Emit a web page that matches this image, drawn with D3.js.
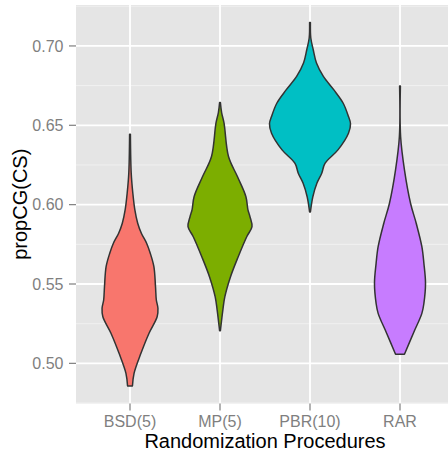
<!DOCTYPE html>
<html>
<head>
<meta charset="utf-8">
<script src="https://cdn.jsdelivr.net/npm/d3@7"></script>
<style>
  html, body { margin: 0; padding: 0; background: #fff; }
  svg { display: block; font-family: "Liberation Sans", Arial, sans-serif; }
</style>
</head>
<body>
<svg id="chart" width="448" height="450"></svg>
<script>
// ---- data ----
const categories = ["BSD(5)", "MP(5)", "PBR(10)", "RAR"];
const colors = ["#F8766D", "#7CAE00", "#00BFC4", "#C77CFF"];
const yTicks = [0.50, 0.55, 0.60, 0.65, 0.70];
const yMinor = [0.475, 0.525, 0.575, 0.625, 0.675, 0.725];

// density profiles: value (propCG) and relative density (violin half-width)
const bsdValues = [0.6444, 0.6198, 0.6072, 0.5967, 0.5883, 0.5820, 0.5757, 0.5694, 0.5609, 0.5483, 0.5399, 0.5347, 0.5294, 0.5190, 0.5063, 0.4937, 0.4857];
const bsdDensity = [0.01, 0.03, 0.07, 0.12, 0.19, 0.28, 0.41, 0.50, 0.59, 0.63, 0.65, 0.69, 0.67, 0.47, 0.27, 0.10, 0.06];

const mpValues = [0.6643, 0.6580, 0.6513, 0.6303, 0.6177, 0.6050, 0.5967, 0.5924, 0.5861, 0.5798, 0.5672, 0.5546, 0.5420, 0.5336, 0.5206];
const mpDensity = [0.01, 0.04, 0.10, 0.21, 0.43, 0.64, 0.69, 0.74, 0.79, 0.66, 0.45, 0.26, 0.12, 0.07, 0.01];

const pbrValues = [0.7148, 0.7050, 0.6976, 0.6892, 0.6808, 0.6723, 0.6639, 0.6555, 0.6510, 0.6450, 0.6345, 0.6260, 0.6198, 0.6135, 0.6050, 0.5954];
const pbrDensity = [0.01, 0.02, 0.08, 0.16, 0.33, 0.59, 0.82, 0.95, 1.00, 0.95, 0.69, 0.37, 0.29, 0.17, 0.07, 0.01];

const rarValues = [0.6748, 0.6429, 0.6219, 0.6009, 0.5883, 0.5735, 0.5630, 0.5504, 0.5378, 0.5315, 0.5190, 0.5057];
const rarDensity = [0.01, 0.015, 0.11, 0.26, 0.40, 0.54, 0.59, 0.63, 0.59, 0.54, 0.33, 0.11];

const groups = [
  { name: categories[0], values: bsdValues, density: bsdDensity, color: colors[0] },
  { name: categories[1], values: mpValues, density: mpDensity, color: colors[1] },
  { name: categories[2], values: pbrValues, density: pbrDensity, color: colors[2] },
  { name: categories[3], values: rarValues, density: rarDensity, color: colors[3] }
];

// ---- layout ----
const panel = { left: 76, right: 454, top: 5, bottom: 403.5 };
const svg = d3.select("#chart");

const x = d3.scalePoint().domain(categories).range([panel.left, panel.right]).padding(0.6);
const y = d3.scaleLinear().domain([0.4747, 0.7258]).range([panel.bottom, panel.top]);
const w = d3.scaleLinear().domain([0, 1]).range([0, x.step() * 0.45]);

// panel background
svg.append("rect")
  .attr("x", panel.left).attr("y", panel.top)
  .attr("width", panel.right - panel.left).attr("height", panel.bottom - panel.top)
  .attr("fill", "#E5E5E5");

const grid = svg.append("g");
// minor
grid.selectAll("line.minor").data(yMinor.filter(v => y(v) >= panel.top && y(v) <= panel.bottom)).join("line")
  .attr("x1", panel.left).attr("x2", panel.right)
  .attr("y1", d => y(d)).attr("y2", d => y(d))
  .attr("stroke", "#F2F2F2").attr("stroke-width", 0.9);
// major horizontal
grid.selectAll("line.majy").data(yTicks).join("line")
  .attr("x1", panel.left).attr("x2", panel.right)
  .attr("y1", d => y(d)).attr("y2", d => y(d))
  .attr("stroke", "#FFFFFF").attr("stroke-width", 1.8);
// major vertical
grid.selectAll("line.majx").data(categories).join("line")
  .attr("y1", panel.top).attr("y2", panel.bottom)
  .attr("x1", d => x(d)).attr("x2", d => x(d))
  .attr("stroke", "#FFFFFF").attr("stroke-width", 1.8);

// violins
groups.forEach(g => {
  const cx = x(g.name);
  const pts = g.values.map((v, i) => ({ v: v, d: g.density[i] }));
  const area = d3.area()
    .y(p => y(p.v))
    .x0(p => cx - w(p.d))
    .x1(p => cx + w(p.d))
    .curve(d3.curveCatmullRom.alpha(0.5));
  svg.append("path")
    .datum(pts)
    .attr("d", area)
    .attr("fill", g.color)
    .attr("stroke", "#333333")
    .attr("stroke-width", 1.5)
    .attr("stroke-linejoin", "round");
});

// y axis ticks & labels
const yAxis = svg.append("g");
yAxis.selectAll("line").data(yTicks).join("line")
  .attr("x1", panel.left - 7).attr("x2", panel.left)
  .attr("y1", d => y(d)).attr("y2", d => y(d))
  .attr("stroke", "#7F7F7F").attr("stroke-width", 1.2);
yAxis.selectAll("text").data(yTicks).join("text")
  .attr("x", 63.5).attr("y", d => y(d)).attr("dy", "0.36em")
  .attr("text-anchor", "end")
  .attr("font-size", 16).attr("fill", "#7F7F7F")
  .text(d => d3.format(".2f")(d));

// x axis ticks & labels
const xAxis = svg.append("g");
xAxis.selectAll("line").data(categories).join("line")
  .attr("x1", d => x(d)).attr("x2", d => x(d))
  .attr("y1", panel.bottom).attr("y2", panel.bottom + 7)
  .attr("stroke", "#7F7F7F").attr("stroke-width", 1.2);
xAxis.selectAll("text").data(categories).join("text")
  .attr("x", d => x(d)).attr("y", 426.5)
  .attr("text-anchor", "middle")
  .attr("font-size", 16).attr("fill", "#7F7F7F")
  .text(d => d);

// axis titles
svg.append("text")
  .attr("x", (panel.left + panel.right) / 2).attr("y", 447.5)
  .attr("text-anchor", "middle").attr("font-size", 20).attr("fill", "#000")
  .text("Randomization Procedures");
svg.append("text")
  .attr("transform", `translate(27,${(panel.top + panel.bottom) / 2}) rotate(-90)`)
  .attr("text-anchor", "middle").attr("font-size", 20).attr("fill", "#000")
  .text("propCG(CS)");
</script>
</body>
</html>
